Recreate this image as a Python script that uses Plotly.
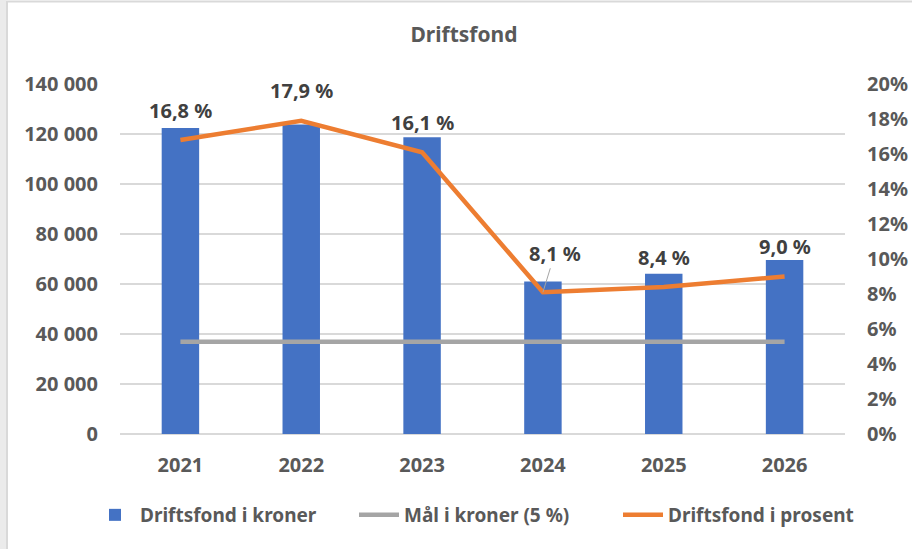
import plotly.graph_objects as go

years = ["2021", "2022", "2023", "2024", "2025", "2026"]
kroner = [122400, 123800, 118700, 61000, 64100, 69600]
maal = [36900, 36900, 36900, 36900, 36900, 36900]
prosent = [0.168, 0.179, 0.161, 0.081, 0.084, 0.090]

y_ticks = [0, 20000, 40000, 60000, 80000, 100000, 120000, 140000]
y2_ticks = [0, 0.02, 0.04, 0.06, 0.08, 0.10, 0.12, 0.14, 0.16, 0.18, 0.20]

FONT = "Noto Sans"
TXT = "#595959"
LBL = "#404040"

# plot area in pixels
L, R, T, B = 120, 845, 84, 434
W, H = 912, 549

def px_x(p):
    return (p - L) / (R - L)

def px_y(p):
    return (B - p) / (B - T)

def fnt(size, color=TXT):
    return dict(family=FONT, size=size, color=color, weight="bold")

fig = go.Figure()
fig.add_trace(go.Bar(
    x=years, y=kroner, name="Driftsfond i kroner",
    marker=dict(color="#4472C4", line=dict(width=0)),
    width=0.31, yaxis="y",
))
fig.add_trace(go.Scatter(
    x=years, y=maal, name="Mål i kroner (5 %)", mode="lines",
    line=dict(color="#A5A5A5", width=4.5), yaxis="y",
))
fig.add_trace(go.Scatter(
    x=years, y=prosent, name="Driftsfond i prosent", mode="lines",
    line=dict(color="#ED7D31", width=4.5), yaxis="y2",
))

annotations = []
for i, (yr, v) in enumerate(zip(years, prosent)):
    txt = f"{v*100:.1f}".replace(".", ",") + " %"
    if yr == "2024":
        annotations.append(dict(
            x=i, y=v, xref="x", yref="y2", text=txt, showarrow=True,
            arrowhead=0, arrowwidth=1, arrowcolor="#A5A5A5",
            ax=12, ay=-39, standoff=0, font=fnt(20, LBL),
        ))
    else:
        annotations.append(dict(
            x=i, y=v, xref="x", yref="y2", text=txt, showarrow=False,
            yshift=30, font=fnt(20, LBL),
        ))

shapes = [
    dict(type="rect", xref="paper", yref="paper",
         x0=px_x(-5), x1=px_x(6), y0=px_y(W), y1=px_y(-5),
         fillcolor="#EBEBEB", line=dict(width=0), layer="below"),
    dict(type="line", xref="paper", yref="paper",
         x0=px_x(7), x1=px_x(7), y0=px_y(W), y1=px_y(1.5),
         line=dict(color="#D9D9D9", width=2)),
    dict(type="line", xref="paper", yref="paper",
         x0=px_x(6), x1=px_x(W + 5), y0=px_y(1.5), y1=px_y(1.5),
         line=dict(color="#D9D9D9", width=2)),
]

fig.update_layout(
    width=W, height=H,
    margin=dict(l=L, r=W - R, t=T, b=H - B, pad=0, autoexpand=False),
    paper_bgcolor="white", plot_bgcolor="white",
    separators=", ",
    font=dict(family=FONT, size=20, color=TXT),
    title=dict(text="Driftsfond", x=464 / W, xanchor="center",
               y=1 - 35 / H, yanchor="middle", font=fnt(21)),
    xaxis=dict(type="category", range=[-0.5, 5.5], showgrid=False,
               showline=False, ticks="", tickfont=fnt(20),
               ticklabelstandoff=17, automargin=False),
    yaxis=dict(range=[0, 140000], tickvals=y_ticks, tickformat=",d",
               showgrid=True, gridcolor="#D9D9D9", gridwidth=1.5,
               zeroline=True, zerolinecolor="#D9D9D9", zerolinewidth=1.5,
               showline=False, ticks="", tickfont=fnt(20),
               ticklabelstandoff=21, automargin=False),
    yaxis2=dict(range=[0, 0.20], tickvals=y2_ticks, tickformat=".0%",
                overlaying="y", side="right", showgrid=False,
                zeroline=False, showline=False, ticks="",
                tickfont=fnt(20), ticklabelstandoff=21, automargin=False),
    legend=dict(orientation="h", xref="paper", x=px_x(90), xanchor="left",
                yref="paper", y=px_y(515), yanchor="middle",
                font=fnt(19), itemwidth=40, traceorder="normal",
                entrywidth=209, entrywidthmode="pixels"),
    annotations=annotations,
    shapes=shapes,
    showlegend=True,
)

fig.write_html("out.html", config={"displayModeBar": False},
               post_script="document.body.style.margin='0px';document.body.style.padding='0px';")
